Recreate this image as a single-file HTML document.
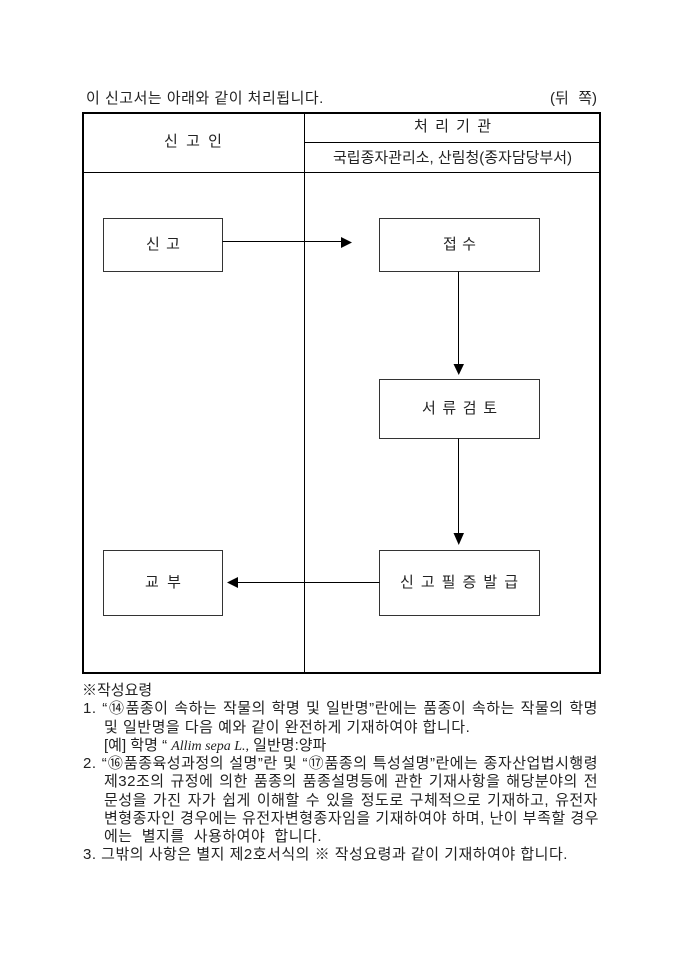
<!DOCTYPE html>
<html><head><meta charset="utf-8">
<style>
html,body{margin:0;padding:0;background:#fff;}
body{width:680px;height:962px;position:relative;overflow:hidden;}
svg{position:absolute;left:0;top:0;}
.t{position:absolute;white-space:nowrap;font-size:15px;line-height:20px;height:20px;font-family:"Liberation Sans","Noto Sans CJK KR",sans-serif;color:#222;}
.j{text-align:justify;text-align-last:justify;}
.n{letter-spacing:0.5px;}
.i{font-family:"Liberation Serif",serif;font-style:italic;font-size:14px;}
</style></head>
<body>
<svg width="680" height="962" viewBox="0 0 680 962">
  <!-- table -->
  <rect x="83" y="113" width="517" height="560" fill="none" stroke="#000" stroke-width="2"/>
  <line x1="304.5" y1="113" x2="304.5" y2="673" stroke="#000" stroke-width="1"/>
  <line x1="83" y1="172.5" x2="600" y2="172.5" stroke="#000" stroke-width="1"/>
  <line x1="304.5" y1="142.5" x2="600" y2="142.5" stroke="#000" stroke-width="1"/>
  <!-- boxes -->
  <g fill="none" stroke="#333" stroke-width="1">
    <rect x="103.5" y="218.5" width="119" height="53"/>
    <rect x="379.5" y="218.5" width="160" height="53"/>
    <rect x="379.5" y="379.5" width="160" height="59"/>
    <rect x="103.5" y="550.5" width="119" height="65"/>
    <rect x="379.5" y="550.5" width="160" height="65"/>
  </g>
  <!-- connectors -->
  <g stroke="#000" stroke-width="1">
    <line x1="222.5" y1="241.5" x2="341" y2="241.5"/>
    <line x1="458.5" y1="271.5" x2="458.5" y2="365"/>
    <line x1="458.5" y1="438.5" x2="458.5" y2="534"/>
    <line x1="379.5" y1="582.5" x2="237" y2="582.5"/>
  </g>
  <g fill="#000">
    <polygon points="341,237 352,242.5 341,248"/>
    <polygon points="453.5,364 464,364 458.75,375"/>
    <polygon points="453.5,533 464,533 458.75,545"/>
    <polygon points="238,577 238,588 227,582.5"/>
  </g>
  <text x="333" y="162.5" textLength="239" lengthAdjust="spacing" font-size="15" fill="#222" font-family="Liberation Sans, Noto Sans CJK KR, sans-serif">국립종자관리소, 산림청(종자담당부서)</text>
</svg>

<div class="t j n" style="left:86px;top:89px;width:237px;">이 신고서는 아래와 같이 처리됩니다.</div>
<div class="t j" style="left:550px;top:89px;width:47px;">(뒤 쪽)</div>

<div class="t j" style="left:164px;top:132px;width:58px;">신 고 인</div>
<div class="t j" style="left:414px;top:117px;width:77px;">처 리 기 관</div>

<div class="t j" style="left:146px;top:235px;width:34px;">신 고</div>
<div class="t j" style="left:443px;top:235px;width:33px;">접 수</div>
<div class="t j" style="left:422px;top:399px;width:75px;">서 류 검 토</div>
<div class="t j" style="left:145px;top:573px;width:36px;">교 부</div>
<div class="t j" style="left:400px;top:573px;width:118px;">신 고 필 증 발 급</div>

<div class="t" style="left:82px;top:681px;">※작성요령</div>
<div class="t j n" style="left:83px;top:699px;width:515px;">1. “⑭품종이 속하는 작물의 학명 및 일반명”란에는 품종이 속하는 작물의 학명</div>
<div class="t j n" style="left:104px;top:718px;width:366px;">및 일반명을 다음 예와 같이 완전하게 기재하여야 합니다.</div>
<div class="t" style="left:104px;top:736px;">[예] 학명 “ <span class="i">Allim sepa L.,</span> 일반명:양파</div>
<div class="t j n" style="left:83px;top:754px;width:515px;">2. “⑯품종육성과정의 설명”란 및 “⑰품종의 특성설명”란에는 종자산업법시행령</div>
<div class="t j n" style="left:104px;top:772px;width:494px;">제32조의 규정에 의한 품종의 품종설명등에 관한 기재사항을 해당분야의 전</div>
<div class="t j n" style="left:104px;top:791px;width:494px;">문성을 가진 자가 쉽게 이해할 수 있을 정도로 구체적으로 기재하고, 유전자</div>
<div class="t j n" style="left:104px;top:809px;width:494px;">변형종자인 경우에는 유전자변형종자임을 기재하여야 하며, 난이 부족할 경우</div>
<div class="t j n" style="left:104px;top:827px;width:218px;">에는 별지를 사용하여야 합니다.</div>
<div class="t j n" style="left:83px;top:845px;width:483px;">3. 그밖의 사항은 별지 제2호서식의 ※ 작성요령과 같이 기재하여야 합니다.</div>
</body></html>
